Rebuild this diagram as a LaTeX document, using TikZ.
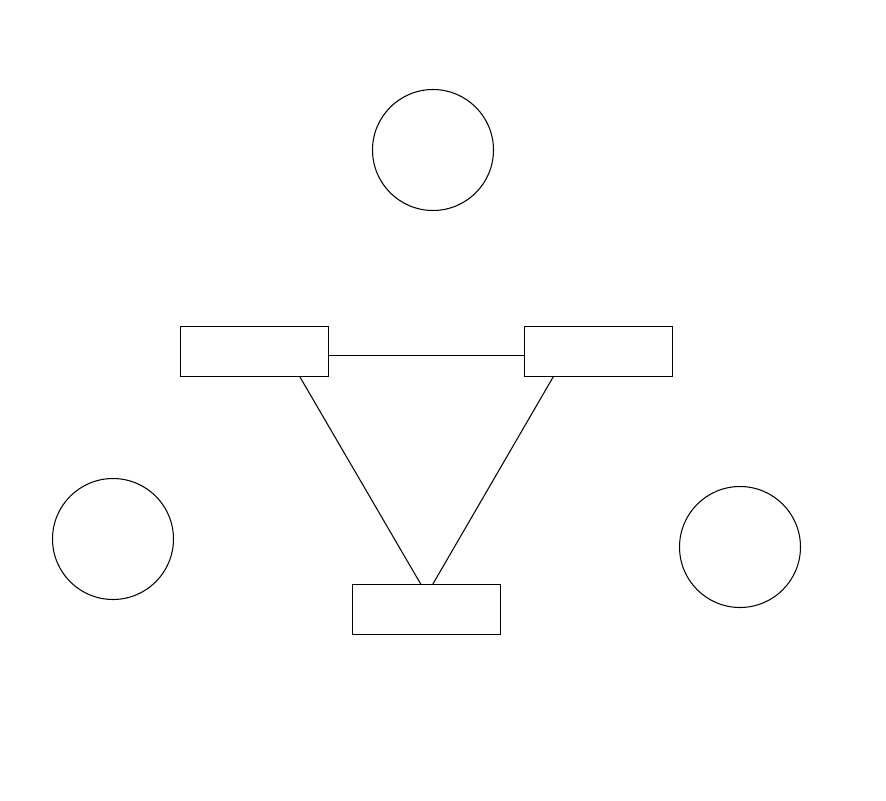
\documentclass[tikz,border=0pt]{standalone}
\usepackage{tikz}
\usetikzlibrary{shapes}
\usetikzlibrary{positioning}

\tikzset{
  ent/.style={draw, rectangle, minimum width=2.96cm, minimum height=1cm, inner sep=0pt},
  atr/.style={draw, circle, minimum size=2.42cm, inner sep=0pt}
}

\begin{document}
\begin{tikzpicture}[x=0.02cm,y=-0.02cm,line width=0.6pt]
\useasboundingbox (0,0) rectangle (886,801);
\node[atr] (top) at (433,150) {};
\node[atr] (lft) at (113,539) {};
\node[atr] (rgt) at (740,547) {};
\node[ent] (lr) at (254.3,351.2) {};
\node[ent] (rr) at (598.3,351.2) {};
\node[ent] (br) at (426.3,609.7) {};
\draw ([yshift=-0.08cm]lr.east)--([yshift=-0.08cm]rr.west);
\draw ([xshift=0.91cm]lr.south)--([xshift=-0.11cm]br.north);
\draw ([xshift=-0.9cm]rr.south)--([xshift=0.13cm]br.north);
\end{tikzpicture}
\end{document}
